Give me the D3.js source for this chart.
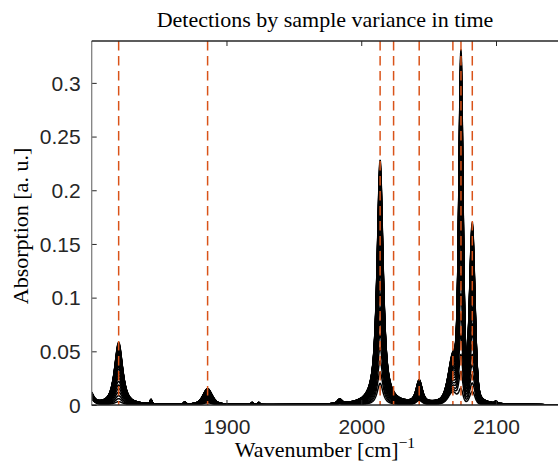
<!DOCTYPE html>
<html><head><meta charset="utf-8">
<script src="https://cdn.jsdelivr.net/npm/d3@7"></script>
<style>body{margin:0;background:#fff;overflow:hidden}</style>
</head><body><svg id="c" width="558" height="468"></svg>
<script>
const chartTitle = "Detections by sample variance in time";
const xLabel = "Wavenumber [cm]";
const xLabelSup = "\u22121";
const yLabel = "Absorption [a. u.]";
const xDomain = [1800, 2150];
const yDomain = [0, 0.339];
const xTickValues = [1900, 2000, 2100];
const xTickLabels = ["1900", "2000", "2100"];
const yTickValues = [0, 0.05, 0.1, 0.15, 0.2, 0.25, 0.3];
const yTickLabels = ["0", "0.05", "0.1", "0.15", "0.2", "0.25", "0.3"];
// detected band positions (dashed lines), cm^-1
const detections = [1820, 1886, 2014, 2024, 2043, 2068, 2074, 2082.4];
// absorption bands
const peakCenters = [1797, 1820, 1844, 1869, 1886, 1919, 1924, 1984, 2014, 2043, 2068, 2074, 2082.4, 2100];
const peakHwhm    = [3.5, 3.5, 0.8, 1.0, 4.0, 0.8, 0.8, 2.0, 2.6, 2.6, 4.0, 1.8, 2.3, 1.0];
const peakLorentz = [0.6, 0.8, 0.3, 0.3, 0.6, 0.3, 0.3, 0.6, 0.85, 0.7, 0.5, 0.3, 0.3, 0.3];
const peakLow     = [0.010, 0.003, 0.001, 0.0005, 0.002, 0.0005, 0.0005, 0.001, 0.02, 0.004, 0.012, 0.012, 0.012, 0.001];
const peakHigh    = [0.018, 0.058, 0.004, 0.002, 0.015, 0.002, 0.002, 0.004, 0.228, 0.021, 0.040, 0.317, 0.164, 0.002];
// relative level of each recorded spectrum (time series)
const spectrumLevels = [0.00, 0.05, 0.10, 0.16, 0.22, 0.28, 0.34, 0.40, 0.45, 0.50, 0.55, 0.59, 0.63, 0.67, 0.71,
                        0.74, 0.77, 0.80, 0.83, 0.86, 0.88, 0.90, 0.92, 0.94, 0.95, 0.96, 0.97, 0.98, 0.99, 1.00];
const sampleStep = 0.25;

const L = 91.7, T = 41, B = 405, R = 563.4;
const svg = d3.select("#c");
const x = d3.scaleLinear().domain(xDomain).range([L, R]);
const y = d3.scaleLinear().domain(yDomain).range([B, T]);

function band(w, i){
  const d = (w - peakCenters[i]) / peakHwhm[i];
  const lor = 1 / (1 + d*d);
  const gau = Math.exp(-Math.LN2 * d*d);
  return peakLorentz[i]*lor + (1-peakLorentz[i])*gau;
}
const grid = d3.range(xDomain[0], xDomain[1] + sampleStep/2, sampleStep);
const spectra = spectrumLevels.map(t => grid.map(w => {
  let s = 0;
  for (let i = 0; i < peakCenters.length; i++) s += (peakLow[i] + (peakHigh[i]-peakLow[i])*t) * band(w, i);
  return [w, s];
}));

svg.append("defs").append("clipPath").attr("id","clip")
  .append("rect").attr("x", L).attr("y", T).attr("width", R-L).attr("height", B-T);

const line = d3.line().x(d => x(d[0])).y(d => y(d[1]));
svg.append("g").attr("clip-path","url(#clip)")
  .selectAll("path").data(spectra).join("path")
  .attr("d", line).attr("fill","none").attr("stroke","#000").attr("stroke-width",1.5);

svg.append("g").attr("clip-path","url(#clip)")
  .selectAll("line").data(detections).join("line")
  .attr("x1", d => x(d)).attr("x2", d => x(d)).attr("y1", T).attr("y2", B)
  .attr("stroke","#D95319").attr("stroke-width",1.5).attr("stroke-dasharray","9.5,5.5");

const axColor = "#262626";
const font = "'Liberation Sans', Arial, Helvetica, sans-serif";
const serif = "'Liberation Serif', 'Times New Roman', serif";

// bottom axis
const gb = svg.append("g").attr("transform",`translate(0,${B})`)
  .call(d3.axisBottom(x).tickValues(xTickValues).tickFormat((d,i)=>xTickLabels[i]).tickSizeInner(-5).tickSizeOuter(0));
gb.select(".domain").remove();
gb.selectAll("line").attr("stroke", axColor);
gb.selectAll("text").attr("y", 29).attr("dy", 0).attr("fill", axColor)
  .style("font-family", font).style("font-size","21px");
// top axis
const gt = svg.append("g").attr("transform",`translate(0,${T})`)
  .call(d3.axisTop(x).tickValues(xTickValues).tickFormat("").tickSizeInner(-5).tickSizeOuter(0));
gt.select(".domain").remove();
gt.selectAll("line").attr("stroke", axColor);
// left axis
const gl = svg.append("g").attr("transform",`translate(${L},0)`)
  .call(d3.axisLeft(y).tickValues(yTickValues).tickFormat((d,i)=>yTickLabels[i]).tickSizeInner(-5).tickSizeOuter(0));
gl.select(".domain").remove();
gl.selectAll("line").attr("stroke", axColor);
gl.selectAll("text").attr("x", -11).attr("dy","0.35em").attr("fill", axColor)
  .style("font-family", font).style("font-size","21px");

// frame lines
svg.append("line").attr("x1",L).attr("x2",L).attr("y1",T).attr("y2",B).attr("stroke","#808080").attr("stroke-width",1.3);
svg.append("line").attr("x1",L).attr("x2",R).attr("y1",T).attr("y2",T).attr("stroke",axColor).attr("stroke-width",1.3);
svg.append("line").attr("x1",L).attr("x2",R).attr("y1",B).attr("y2",B).attr("stroke",axColor).attr("stroke-width",1.3);

// titles
svg.append("text").attr("x", 325).attr("y", 27).attr("text-anchor","middle")
  .style("font-family", serif).style("font-size","22px").attr("fill","#000").text(chartTitle);
const xl = svg.append("text").attr("x", 325).attr("y", 457).attr("text-anchor","middle")
  .style("font-family", serif).style("font-size","22px").attr("fill","#000");
xl.append("tspan").text(xLabel);
xl.append("tspan").attr("dy", -9).style("font-size","15.5px").text(xLabelSup);
svg.append("text").attr("transform","translate(28,226) rotate(-90)").attr("text-anchor","middle")
  .style("font-family", serif).style("font-size","22px").attr("fill","#000").text(yLabel);
</script></body></html>
